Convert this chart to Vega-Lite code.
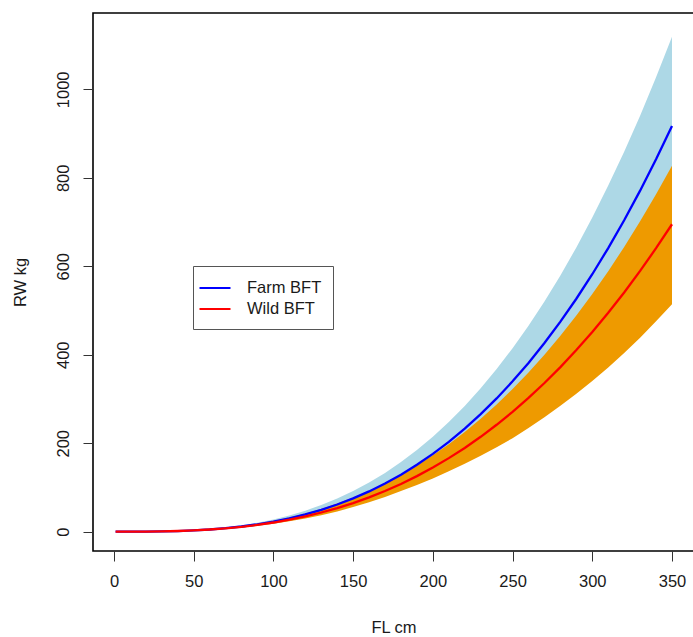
{
  "$schema": "https://vega.github.io/schema/vega-lite/v6.json",
  "autosize": {"type": "none"},
  "padding": {"left": 93, "top": 13, "right": 0, "bottom": 86},
  "width": 601,
  "height": 538,
  "background": "white",
  "config": {
    "view": {"stroke": "black", "strokeWidth": 1.6},
    "font": "Liberation Sans",
    "axis": {
      "grid": false, "domain": false, "tickSize": 10, "tickColor": "#333", "tickWidth": 1,
      "labelFont": "Liberation Sans", "labelFontSize": 16.5, "labelColor": "#1a1a1a",
      "titleFont": "Liberation Sans", "titleFontSize": 16.5, "titleFontWeight": "normal", "titleColor": "#1a1a1a"
    }
  },
  "data": {"values": [
    {"L": 1, "farm": 0, "farm_lo": 0, "farm_hi": 0, "wild": 0, "wild_lo": 0, "wild_hi": 0},
    {"L": 10, "farm": 0.03, "farm_lo": 0.02, "farm_hi": 0.03, "wild": 0.03, "wild_lo": 0.03, "wild_hi": 0.04},
    {"L": 20, "farm": 0.2, "farm_lo": 0.16, "farm_hi": 0.24, "wild": 0.23, "wild_lo": 0.2, "wild_hi": 0.27},
    {"L": 30, "farm": 0.65, "farm_lo": 0.52, "farm_hi": 0.8, "wild": 0.72, "wild_lo": 0.62, "wild_hi": 0.86},
    {"L": 40, "farm": 1.53, "farm_lo": 1.22, "farm_hi": 1.87, "wild": 1.6, "wild_lo": 1.38, "wild_hi": 1.9},
    {"L": 50, "farm": 2.95, "farm_lo": 2.36, "farm_hi": 3.6, "wild": 2.99, "wild_lo": 2.57, "wild_hi": 3.56},
    {"L": 60, "farm": 5.04, "farm_lo": 4.03, "farm_hi": 6.15, "wild": 4.98, "wild_lo": 4.28, "wild_hi": 5.93},
    {"L": 70, "farm": 7.95, "farm_lo": 6.36, "farm_hi": 9.7, "wild": 7.67, "wild_lo": 6.6, "wild_hi": 9.13},
    {"L": 80, "farm": 11.8, "farm_lo": 9.44, "farm_hi": 14.4, "wild": 11.1, "wild_lo": 9.55, "wild_hi": 13.2},
    {"L": 90, "farm": 16.7, "farm_lo": 13.4, "farm_hi": 20.4, "wild": 15.5, "wild_lo": 13.3, "wild_hi": 18.4},
    {"L": 100, "farm": 22.8, "farm_lo": 18.2, "farm_hi": 27.8, "wild": 20.8, "wild_lo": 17.9, "wild_hi": 24.8},
    {"L": 110, "farm": 30.2, "farm_lo": 24.2, "farm_hi": 36.8, "wild": 27.2, "wild_lo": 23.4, "wild_hi": 32.4},
    {"L": 120, "farm": 39.0, "farm_lo": 31.2, "farm_hi": 47.6, "wild": 34.7, "wild_lo": 29.8, "wild_hi": 41.3},
    {"L": 130, "farm": 49.4, "farm_lo": 39.5, "farm_hi": 60.3, "wild": 43.4, "wild_lo": 37.3, "wild_hi": 51.6},
    {"L": 140, "farm": 61.5, "farm_lo": 49.2, "farm_hi": 75.0, "wild": 53.4, "wild_lo": 45.9, "wild_hi": 63.5},
    {"L": 150, "farm": 75.3, "farm_lo": 60.2, "farm_hi": 91.9, "wild": 64.8, "wild_lo": 55.7, "wild_hi": 77.1},
    {"L": 160, "farm": 91.1, "farm_lo": 72.9, "farm_hi": 111.1, "wild": 77.6, "wild_lo": 66.7, "wild_hi": 92.3},
    {"L": 170, "farm": 108.9, "farm_lo": 87.1, "farm_hi": 132.9, "wild": 92.0, "wild_lo": 78.7, "wild_hi": 109.5},
    {"L": 180, "farm": 128.9, "farm_lo": 103.1, "farm_hi": 157.3, "wild": 108.0, "wild_lo": 91.8, "wild_hi": 128.5},
    {"L": 190, "farm": 151.2, "farm_lo": 121.0, "farm_hi": 184.5, "wild": 125.7, "wild_lo": 105.6, "wild_hi": 149.6},
    {"L": 200, "farm": 176.0, "farm_lo": 140.8, "farm_hi": 214.7, "wild": 145.0, "wild_lo": 120.4, "wild_hi": 172.6},
    {"L": 210, "farm": 203.2, "farm_lo": 162.6, "farm_hi": 247.9, "wild": 166.3, "wild_lo": 136.4, "wild_hi": 197.9},
    {"L": 220, "farm": 233.1, "farm_lo": 186.5, "farm_hi": 284.4, "wild": 189.4, "wild_lo": 153.4, "wild_hi": 225.4},
    {"L": 230, "farm": 265.8, "farm_lo": 212.6, "farm_hi": 324.3, "wild": 214.5, "wild_lo": 171.6, "wild_hi": 255.3},
    {"L": 240, "farm": 301.3, "farm_lo": 241.0, "farm_hi": 367.6, "wild": 241.7, "wild_lo": 190.9, "wild_hi": 287.6},
    {"L": 250, "farm": 339.9, "farm_lo": 271.9, "farm_hi": 414.7, "wild": 271.0, "wild_lo": 211.4, "wild_hi": 322.5},
    {"L": 260, "farm": 381.6, "farm_lo": 305.3, "farm_hi": 465.6, "wild": 302.4, "wild_lo": 234.4, "wild_hi": 359.9},
    {"L": 270, "farm": 426.5, "farm_lo": 341.2, "farm_hi": 520.3, "wild": 336.1, "wild_lo": 258.8, "wild_hi": 400.0},
    {"L": 280, "farm": 474.8, "farm_lo": 379.8, "farm_hi": 579.3, "wild": 372.1, "wild_lo": 284.7, "wild_hi": 442.8},
    {"L": 290, "farm": 526.6, "farm_lo": 421.3, "farm_hi": 642.5, "wild": 410.6, "wild_lo": 312.1, "wild_hi": 488.6},
    {"L": 300, "farm": 582.0, "farm_lo": 465.6, "farm_hi": 710.0, "wild": 451.4, "wild_lo": 340.8, "wild_hi": 537.2},
    {"L": 310, "farm": 641.2, "farm_lo": 513.0, "farm_hi": 782.3, "wild": 494.9, "wild_lo": 371.2, "wild_hi": 588.9},
    {"L": 320, "farm": 704.0, "farm_lo": 563.2, "farm_hi": 858.9, "wild": 540.8, "wild_lo": 404.0, "wild_hi": 643.6},
    {"L": 330, "farm": 770.9, "farm_lo": 616.7, "farm_hi": 940.5, "wild": 589.5, "wild_lo": 438.6, "wild_hi": 701.5},
    {"L": 340, "farm": 841.8, "farm_lo": 673.4, "farm_hi": 1027.0, "wild": 640.8, "wild_lo": 475.5, "wild_hi": 762.6},
    {"L": 350, "farm": 917, "farm_lo": 733.6, "farm_hi": 1118.7, "wild": 695, "wild_lo": 514.3, "wild_hi": 827.1}
  ]},
  "encoding": {
    "x": {"field": "L", "type": "quantitative",
      "scale": {"domain": [-13.17, 363.8], "nice": false, "zero": false},
      "axis": {"values": [0, 50, 100, 150, 200, 250, 300, 350], "format": "d", "title": "FL cm", "labelPadding": 12, "titlePadding": 30, "labelFlush": false}}
  },
  "layer": [
    {"mark": {"type": "area", "color": "#ADD8E6", "opacity": 1},
     "encoding": {
       "y": {"field": "farm_lo", "type": "quantitative",
         "scale": {"domain": [-43.6, 1172.5], "nice": false, "zero": false},
         "axis": {"values": [0, 200, 400, 600, 800, 1000], "format": "d", "title": "RW kg", "labelAngle": -90, "labelPadding": 12, "titlePadding": 27}},
       "y2": {"field": "farm_hi"}}},
    {"mark": {"type": "area", "color": "#EE9A00", "opacity": 1},
     "encoding": {"y": {"field": "wild_lo", "type": "quantitative"}, "y2": {"field": "wild_hi"}}},
    {"transform": [{"fold": ["farm", "wild"], "as": ["series", "RW"]}],
     "mark": {"type": "line", "strokeWidth": 2.3},
     "encoding": {
       "y": {"field": "RW", "type": "quantitative"},
       "color": {"field": "series", "type": "nominal",
         "scale": {"domain": ["farm", "wild"], "range": ["#0000FF", "#FF0000"]},
         "legend": {"title": null, "orient": "none", "legendX": 100, "legendY": 253,
           "labelExpr": "datum.value == 'farm' ? 'Farm BFT' : 'Wild BFT'",
           "symbolType": "M-1.55,0H1.55", "symbolSize": 400, "symbolStrokeWidth": 2,
           "labelFontSize": 16.5, "labelFont": "Liberation Sans", "labelColor": "#1a1a1a", "labelOffset": 21,
           "rowPadding": 1, "padding": 11, "strokeColor": "#555", "fillColor": "white"}}}}
  ]
}
